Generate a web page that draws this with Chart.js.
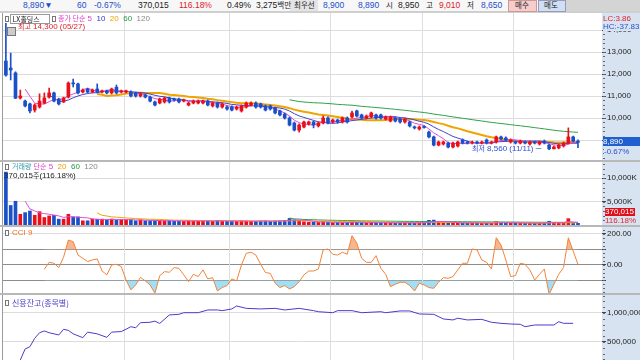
<!DOCTYPE html>
<html>
<head>
<meta charset="utf-8">
<script src="https://cdn.jsdelivr.net/npm/chart.js@4.4.1/dist/chart.umd.min.js"></script>
<style>
  html, body { margin: 0; padding: 0; }
  body { width: 640px; height: 360px; overflow: hidden; position: relative; background: #fff;
         font-family: "Liberation Sans", "Noto Sans CJK KR", sans-serif; }
  .abs { position: absolute; white-space: nowrap; }
  canvas { position: absolute; left: 3px; }
  .hd { position: absolute; top: 0; font-size: 8.5px; line-height: 10px; white-space: nowrap; }
  .kr { font-family: "Noto Sans CJK KR", sans-serif; font-size: 7px; }
  .hd .kr, .hd.kr { font-size: 7.5px; }
  .lg { position: absolute; font-size: 8px; line-height: 9px; white-space: nowrap; z-index: 5; }
  .ic { position: absolute; width: 2px; height: 4px; border: 1px solid #777; background: #fff; z-index: 5; }
  .sep { position: absolute; left: 0; width: 640px; background: #b8b8b8; z-index: 4; }
</style>
</head>
<body>

<!-- header strip -->
<div class="abs" style="left:0;top:0;width:640px;height:11px;background:#f7f7f7"></div>
<div class="abs" style="left:290px;top:0;width:28px;height:11px;background:#e4e4e4"></div>
<div class="abs" style="left:565px;top:0;width:75px;height:11px;background:#d4d4d4"></div>
<div class="abs" style="left:0;top:11px;width:640px;height:2px;background:#cfcfcf"></div>
<div class="hd" style="left:23px;color:#1f4fc8">8,890▼</div>
<div class="hd" style="left:77px;color:#1f4fc8">60</div>
<div class="hd" style="left:94px;color:#1f4fc8">-0.67%</div>
<div class="hd" style="left:138px;color:#222">370,015</div>
<div class="hd" style="left:179px;color:#e0202a">116.18%</div>
<div class="hd" style="left:227px;color:#222">0.49%</div>
<div class="hd" style="left:256px;color:#222">3,275<span class="kr">백만</span></div>
<div class="hd kr" style="left:294px;color:#222">최우선</div>
<div class="hd" style="left:323px;color:#1f4fc8">8,900</div>
<div class="hd" style="left:358px;color:#1f4fc8">8,890</div>
<div class="hd kr" style="left:386px;color:#222">시</div>
<div class="hd" style="left:398px;color:#222">8,950</div>
<div class="hd kr" style="left:426px;color:#222">고</div>
<div class="hd" style="left:439px;color:#e0202a">9,010</div>
<div class="hd kr" style="left:467px;color:#222">저</div>
<div class="hd" style="left:481px;color:#1f4fc8">8,650</div>
<div class="abs" style="left:508px;top:0;width:27px;height:10px;background:#f6cccc;border:1px solid #c99"></div>
<div class="hd kr" style="left:515px;color:#222">매수</div>
<div class="abs" style="left:538px;top:0;width:26px;height:10px;background:#cfe0f4;border:1px solid #99b"></div>
<div class="hd kr" style="left:544px;color:#222">매도</div>

<!-- right axis panel -->
<div class="abs" style="left:602px;top:13px;width:38px;height:347px;background:#d7e3f0"></div>
<!-- left border -->
<div class="abs" style="left:2px;top:13px;width:1px;height:347px;background:#9a9a9a;z-index:4"></div>

<canvas id="cPrice" width="637" height="147" style="top:13px"></canvas>
<canvas id="cVol" width="637" height="63" style="top:162px"></canvas>
<canvas id="cCci" width="637" height="66" style="top:227px"></canvas>
<canvas id="cCredit" width="637" height="65" style="top:295px"></canvas>

<div class="sep" style="top:160px;height:2px"></div>
<div class="sep" style="top:225px;height:2px"></div>
<div class="sep" style="top:293px;height:2px"></div>

<!-- price legend -->
<div class="ic" style="left:5px;top:16px"></div>
<div class="abs kr" style="left:10px;top:14px;width:38px;height:8px;border:1px solid #999;background:#fff;line-height:8px;color:#222;z-index:5">&nbsp;LX홀딩스</div>
<div class="ic" style="left:52px;top:16px"></div>
<div class="lg" style="left:58px;top:14px"><span class="kr" style="color:#e03cc8">종가 단순</span> <span style="color:#e03cc8">5</span>&nbsp; <span style="color:#3535cc">10</span>&nbsp; <span style="color:#f0a000">20</span>&nbsp; <span style="color:#229944">60</span>&nbsp; <span style="color:#888">120</span></div>
<div class="abs" style="left:7px;top:27px;width:7px;height:7px;border:1px solid #777;background:#ccc;z-index:5"></div>
<div class="lg" style="left:18px;top:22px;color:#e0202a"><span class="kr">최고</span> 14,300 (05/27)</div>
<div class="lg" style="left:472px;top:144px;color:#2a4fd0"><span class="kr">최저</span> 8,560 (11/11) ─</div>
<div class="lg" style="left:603px;top:14px;color:#e0202a;background:#d7e3f0">LC:3.86</div>
<div class="lg" style="left:603px;top:22px;color:#2a4fd0;background:#d7e3f0;width:37px">HC:-37.83</div>
<div class="lg" style="left:603px;top:137px;width:37px;height:9px;background:#1f5fd0;color:#fff">8,890</div>
<div class="lg" style="left:604px;top:147px;color:#2a4fd0;background:#d7e3f0">-0.67%</div>

<!-- volume legend -->
<div class="ic" style="left:5px;top:164px"></div>
<div class="lg" style="left:12px;top:162px"><span class="kr" style="color:#2f96a6">거래량</span> <span class="kr" style="color:#e03cc8">단순</span> <span style="color:#e03cc8">5</span>&nbsp; <span style="color:#f0a000">20</span>&nbsp; <span style="color:#229944">60</span>&nbsp; <span style="color:#888">120</span></div>
<div class="lg" style="left:4px;top:171px;color:#222">370,015<span class="kr">주</span>(116.18%)</div>
<div class="lg" style="left:605px;top:208px;width:30px;height:8px;background:#e0101a;color:#fff;line-height:8px">370,015</div>
<div class="lg" style="left:605px;top:216px;color:#e0202a">116.18%</div>

<!-- cci legend -->
<div class="ic" style="left:5px;top:230px"></div>
<div class="lg" style="left:12px;top:228px;color:#f07020">CCI 9</div>

<!-- credit legend -->
<div class="ic" style="left:5px;top:300px"></div>
<div class="lg kr" style="left:12px;top:298px;color:#4a3cc8">신용잔고(종목별)</div>

<script>
// daily candles (oldest first)
const opens = [12590,12270,12050,10910,10770,10640,10360,10500,10680,10950,
  11140,10860,10730,10950,11590,11550,11180,11320,11180,11320,
  11180,11230,11140,11400,11180,11180,11180,11140,11000,11050,
  10950,10730,10680,10730,10910,10860,10860,10770,10590,10680,
  10680,10680,10770,10550,10680,10500,10500,10500,10410,10320,
  10500,10590,10680,10640,10550,10550,10450,10320,10180,10000,
  9770,9450,9590,9730,9820,9640,9770,10000,9820,9910,
  9820,10000,10050,10320,10140,10000,10050,10140,10140,9950,
  9860,10000,9950,9820,9820,9590,9500,9590,9360,9140,
  8770,8820,8860,8680,8730,9000,8910,8860,8910,8860,
  9000,8860,8910,9140,9090,8910,8910,8860,8910,8820,
  8910,8820,8950,8770,8600,8640,8730,8860,9140,8950];
const highs = [14300,12950,12100,11270,10820,10680,10640,11100,11140,11360,
  11180,10900,10950,11640,11770,11590,11320,11360,11320,11550,
  11270,11270,11360,11500,11270,11270,11230,11180,11140,11090,
  11000,10770,10910,10950,10950,10910,10910,10860,10730,10820,
  10820,10820,10820,10730,10730,10680,10550,10550,10550,10590,
  10730,10730,10730,10680,10590,10590,10500,10360,10230,10050,
  9820,9730,9860,9860,9860,9820,10090,10050,9950,9950,
  10050,10050,10320,10360,10180,10140,10270,10180,10180,10090,
  10090,10050,10000,10000,9860,9640,9640,9640,9410,9180,
  8950,8950,8910,8910,8950,9050,8950,8950,8950,8950,
  9050,8950,9180,9180,9140,9050,8950,9000,8950,8950,
  8950,8950,9000,8820,8730,8820,8910,9550,9180,9010];
const lows = [11900,11730,10880,10860,10500,10230,10270,10450,10650,10900,
  10730,10590,10700,10910,11410,11100,11140,11140,11140,11140,
  11140,11090,11090,11090,11140,11140,10960,10950,10950,10910,
  10730,10550,10640,10680,10680,10770,10680,10730,10550,10640,
  10640,10640,10550,10500,10450,10450,10360,10320,10360,10270,
  10450,10550,10450,10450,10320,10360,10180,10090,9950,9640,
  9410,9360,9550,9680,9550,9590,9730,9730,9770,9770,
  9770,9770,10000,10050,9950,9950,10000,9950,9950,9910,
  9820,9820,9770,9770,9590,9500,9450,9540,9090,8730,
  8730,8770,8640,8640,8680,8820,8820,8820,8820,8820,
  8820,8820,8860,9000,8950,8860,8820,8820,8820,8770,
  8820,8770,8820,8560,8590,8600,8680,8820,8910,8650];
const closes = [11950,12180,10900,11000,10550,10320,10590,10770,10910,11140,
  10770,10640,10910,11590,11550,11140,11270,11180,11270,11180,
  11230,11140,11320,11140,11230,11230,11000,11000,11090,10950,
  10770,10590,10860,10910,10730,10820,10730,10820,10680,10770,
  10770,10770,10590,10680,10500,10640,10410,10360,10500,10550,
  10680,10680,10500,10500,10360,10410,10230,10140,10000,9680,
  9450,9680,9820,9820,9680,9770,10000,9770,9910,9820,
  10000,9820,10230,10090,10000,10090,10230,10000,10000,10050,
  10050,9860,9820,9950,9640,9550,9590,9570,9140,8770,
  8910,8910,8680,8860,8910,8860,8860,8910,8860,8910,
  8860,8910,9140,9050,9000,9000,8860,8950,8860,8910,
  8860,8910,8860,8600,8680,8770,8860,9140,8950,8890];
// volume in thousands of shares
const volumesK = [11300,4170,5070,2290,2640,2990,2080,2850,1600,1940,
  2080,1250,1250,2290,1740,1740,900,900,1250,1250,
  1250,1110,1250,1110,1110,1110,1110,900,1110,900,
  900,1000,900,900,900,800,850,800,900,850,
  800,850,900,800,1000,850,800,850,800,900,
  850,800,800,850,900,800,850,900,1000,1400,
  1100,900,700,600,650,550,700,600,500,550,
  500,550,700,600,500,450,550,500,450,500,
  450,400,450,500,500,450,450,500,1000,1050,
  600,500,450,450,500,400,450,400,400,380,
  420,380,700,550,450,420,380,400,380,400,
  380,400,450,800,550,480,450,1350,318,370];
// CCI(9), first 8 days have no value
const cci9 = [null,null,null,null,null,null,null,null,-28,17,
  11,-17,50,161,150,64,43,22,32,39,
  -39,-64,0,4,-11,-97,-161,-129,-80,-103,
  -129,-183,-69,-43,-47,-17,-22,-64,-108,-60,
  -75,-32,-90,-82,-168,-146,-133,-90,-103,0,
  75,82,64,4,-49,-54,-118,-146,-133,-155,
  -140,-108,-64,-39,-39,-26,97,103,69,64,
  82,69,189,140,43,17,17,60,-22,-60,
  -140,-125,-112,-112,-133,-168,-118,-129,-146,-151,
  -112,-82,-86,-75,-32,11,11,103,97,32,
  17,-26,176,129,32,-75,-69,11,4,-32,
  -97,-60,-26,-189,-125,-60,-17,176,90,4];
// credit balance (신용잔고), read at the line's turning points
const creditIdx = [3,4,5,6,7,8,9,11,12,13,14,16,17,19,21,22,24,25,26,27,
  28,30,31,32,34,36,37,40,42,44,45,47,48,50,53,56,58,61,64,65,
  68,69,72,74,78,79,82,84,86,89,91,93,94,96,99,101,103,105,107,108,
  110,114,115,116,118];
const creditBal = [190000,379000,419000,564000,660000,690000,660000,621000,719000,700000,
  640000,575000,670000,640000,580000,670000,680000,720000,764000,745000,
  833000,840000,860000,820000,966000,977000,1005000,1005000,1052000,1052000,
  1040000,1070000,1121000,1080000,1070000,1080000,1052000,1080000,1040000,1022000,
  1005000,1040000,1040000,1005000,1022000,1005000,1035000,1035000,983000,977000,
  897000,880000,910000,880000,890000,840000,822000,810000,805000,764000,
  793000,793000,850000,822000,822000];

const priceTicks = [9000, 10000, 11000, 12000, 13000, 14000];
const volTicks = [5000, 10000];
const cciTicks = [200, 100, 0, -100];
const creditTicks = [500000, 1000000];
const monthTicks = [25, 47, 68, 87, 106];   // first trading day of each month
const maPeriods = [5, 10, 20, 60];

const RED = '#e8101a', BLUE = '#1a50c8';
const maColors = { 5: '#e04cd8', 10: '#4444c8', 20: '#f0a400', 60: '#2fa048' };

function sma(arr, n) {
  return arr.map((v, i) => i < n - 1 ? null : arr.slice(i - n + 1, i + 1).reduce((a, b) => a + b, 0) / n);
}
function pts(arr) {
  return arr.map((y, x) => ({ x, y })).filter(p => p.y !== null);
}

const upDown = closes.map((c, i) => c >= opens[i] ? RED : BLUE);

// plugins: month grid lines, right axis panel minor ticks
const monthLines = {
  id: 'monthLines',
  beforeDatasetsDraw(chart) {
    const { ctx, chartArea } = chart;
    const xs = chart.scales.x;
    ctx.save();
    ctx.strokeStyle = '#dedede';
    ctx.lineWidth = 1;
    monthTicks.forEach(m => {
      const x = Math.round(xs.getPixelForValue(m - 0.5)) + 0.5;
      ctx.beginPath();
      ctx.moveTo(x, chartArea.top);
      ctx.lineTo(x, chartArea.bottom);
      ctx.stroke();
    });
    ctx.restore();
  }
};
const minorTicks = {
  id: 'minorTicks',
  afterDraw(chart, args, opts) {
    if (!opts.step) return;
    const { ctx, chartArea } = chart;
    const ys = chart.scales.y;
    ctx.save();
    ctx.fillStyle = '#666';
    for (let v = Math.ceil(ys.min / opts.step) * opts.step; v <= ys.max; v += opts.step) {
      ctx.fillRect(chartArea.right + 1, Math.round(ys.getPixelForValue(v)), 2, 1);
    }
    ctx.restore();
  }
};
Chart.register(monthLines, minorTicks);

const xAxis = { type: 'linear', display: false, offset: false, min: -0.6, max: 124.0 };

function yAxis(min, max, tickList, label, gridColor) {
  return {
    position: 'right', min, max,
    afterBuildTicks: s => { s.ticks = tickList.map(v => ({ value: v })); },
    afterFit: s => { s.width = 38; s.paddingTop = 0; s.paddingBottom = 0; },
    border: { display: false },
    grid: { color: gridColor, lineWidth: 1, tickLength: 4, tickColor: '#444', drawTicks: true },
    ticks: { callback: label, color: '#222', padding: 1, font: { family: 'Liberation Sans', size: 8 } }
  };
}

function baseOptions(y, minor) {
  return {
    responsive: false, animation: false, events: [],
    layout: { padding: 0 },
    plugins: { legend: { display: false }, tooltip: { enabled: false }, minorTicks: { step: minor } },
    scales: { x: xAxis, y }
  };
}

const fmt = v => v.toLocaleString('en-US');

// price pane
const priceSets = [
  { type: 'bar', data: highs.map((h, i) => ({ x: i, y: [lows[i], h] })), backgroundColor: upDown,
    barThickness: 1, grouped: false, order: 1 },
  { type: 'bar', data: opens.map((o, i) => ({ x: i, y: [o, closes[i]] })), backgroundColor: upDown,
    barThickness: 3, minBarLength: 1, grouped: false, order: 0 }
];
maPeriods.forEach(n => priceSets.push({
  type: 'line', data: pts(sma(closes, n)), borderColor: maColors[n], borderWidth: n === 20 ? 2 : 1,
  pointRadius: 0, tension: 0, order: 2
}));
new Chart(document.getElementById('cPrice'), {
  data: { datasets: priceSets },
  options: baseOptions(yAxis(8091, 14773, priceTicks, v => fmt(v), '#dcdcdc'), 200)
});

// volume pane
const volSets = [
  { type: 'bar', data: volumesK.map((v, i) => ({ x: i, y: v })), backgroundColor: upDown,
    barThickness: 3, grouped: false, order: 1 }
];
[5, 20, 60].forEach(n => volSets.push({
  type: 'line', data: pts(sma(volumesK, n)), borderColor: maColors[n], borderWidth: 1,
  pointRadius: 0, tension: 0, order: 0
}));
new Chart(document.getElementById('cVol'), {
  data: { datasets: volSets },
  options: baseOptions(yAxis(0, 13461, volTicks, v => fmt(v) + 'K', '#dcdcdc'), 1000)
});

// CCI pane
const cciPts = pts(cci9);
new Chart(document.getElementById('cCci'), {
  data: { datasets: [
    { type: 'line', data: cciPts, borderColor: '#f0843a', borderWidth: 1, pointRadius: 0, tension: 0,
      fill: { target: { value: 100 }, above: '#f7b68e', below: 'rgba(0,0,0,0)' } },
    { type: 'line', data: cciPts, borderColor: 'rgba(0,0,0,0)', borderWidth: 0, pointRadius: 0, tension: 0,
      fill: { target: { value: -100 }, above: 'rgba(0,0,0,0)', below: '#a2def4' } }
  ] },
  options: baseOptions(yAxis(-181, 245, cciTicks,
    v => (v === 200 || v === 0) ? v.toFixed(2) : '',
    ctx => ctx.tick && ctx.tick.value === 200 ? '#dcdcdc' : '#8c8c8c'), 25)
});

// credit balance pane
new Chart(document.getElementById('cCredit'), {
  data: { datasets: [
    { type: 'line', data: creditIdx.map((x, i) => ({ x, y: creditBal[i] })), borderColor: '#4a3cc8',
      borderWidth: 1, pointRadius: 0, tension: 0 }
  ] },
  options: baseOptions(yAxis(189655, 1310000, creditTicks, v => fmt(v), '#dcdcdc'), 100000)
});
</script>
</body>
</html>
